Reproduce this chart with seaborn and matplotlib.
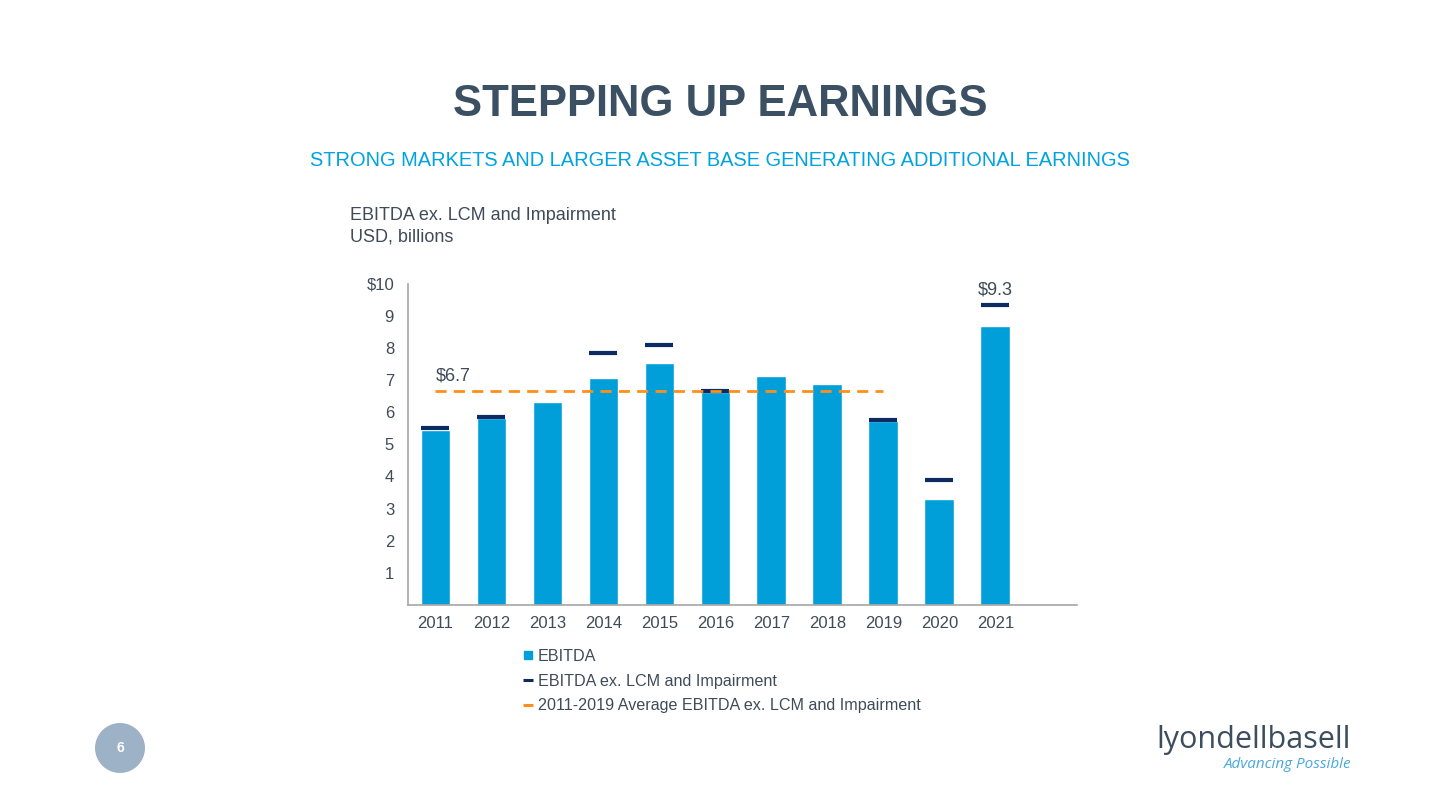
import matplotlib
matplotlib.use("Agg")
import matplotlib.pyplot as plt
from matplotlib.lines import Line2D
from matplotlib.patches import Ellipse
import numpy as np
import pandas as pd
import seaborn as sns

# ---- data ----
years = ["2011", "2012", "2013", "2014", "2015", "2016", "2017", "2018", "2019", "2020", "2021"]
ebitda = [5.45, 5.82, 6.32, 7.07, 7.53, 6.63, 7.14, 6.87, 5.74, 3.29, 8.70]
ebitda_ex = [5.50, 5.86, np.nan, 7.85, 8.10, 6.67, np.nan, np.nan, 5.77, 3.90, 9.34]
avg_years = ["2011", "2019"]
avg_value = 6.68
avg_label = "$6.7"
peak_label = "$9.3"
yticks = [1, 2, 3, 4, 5, 6, 7, 8, 9, 10]
ytick_labels = ["1", "2", "3", "4", "5", "6", "7", "8", "9", "$10"]

BAR = "#009FDA"
NAVY = "#0D2B63"
ORANGE = "#FF8F1C"
TXT = "#3F4B57"
TITLE = "#3C5064"
CYAN = "#00A3E0"

sns.set_theme(style="white")
plt.rcParams["font.family"] = ["Liberation Sans", "DejaVu Sans"]

fig = plt.figure(figsize=(14.4, 8.1), dpi=100)
ax = fig.add_axes([408 / 1440, 1 - 604.8 / 810, (1077 - 408) / 1440, (604.8 - 284) / 810])

df = pd.DataFrame({"year": years, "ebitda": ebitda, "ex": ebitda_ex})
sns.barplot(data=df, x="year", y="ebitda", color=BAR, saturation=1, width=0.53, ax=ax, zorder=2)

pos = np.arange(len(years))
ex_arr = np.array(ebitda_ex, dtype=float)
mask = ~np.isnan(ex_arr)
ax.hlines(ex_arr[mask], pos[mask] - 0.25, pos[mask] + 0.25, colors=NAVY, linewidth=3, zorder=3)

x0 = years.index(avg_years[0])
x1 = years.index(avg_years[1])
ax.plot([x0, x1], [avg_value, avg_value], color=ORANGE, linewidth=2,
        linestyle=(0, (4, 2.6)), zorder=4)
ax.text(x0, avg_value + 0.18, avg_label, fontsize=13, color=TXT, ha="left", va="bottom")
i21 = len(years) - 1
ax.text(pos[i21], ex_arr[i21] + 0.2, peak_label, fontsize=13, color=TXT, ha="center", va="bottom")

ax.set_xlim(-0.49, 11.46)
ax.set_ylim(0, 10)
ax.set_yticks(yticks)
ax.set_yticklabels(ytick_labels)
ax.set_xlabel("")
ax.set_ylabel("")
ax.tick_params(axis="both", length=0, labelsize=12, colors=TXT)
ax.tick_params(axis="y", pad=10)
ax.tick_params(axis="x", pad=8)
for s in ["top", "right"]:
    ax.spines[s].set_visible(False)
for s in ["left", "bottom"]:
    ax.spines[s].set_color("#A6A6A6")
    ax.spines[s].set_linewidth(1.2)

# ---- titles ----
fig.text(0.5, 1 - 104 / 810, "STEPPING UP EARNINGS", ha="center", va="center",
         fontsize=31.4, fontweight="bold", color=TITLE)
fig.text(0.5, 1 - 160 / 810,
         "STRONG MARKETS AND LARGER ASSET BASE GENERATING ADDITIONAL EARNINGS",
         ha="center", va="center", fontsize=14.4, color=CYAN)
fig.text(350 / 1440, 1 - 216 / 810, "EBITDA ex. LCM and Impairment", ha="left", va="center",
         fontsize=13, color=TXT)
fig.text(350 / 1440, 1 - 237 / 810, "USD, billions", ha="left", va="center",
         fontsize=13, color=TXT)

# ---- legend ----
handles = [
    Line2D([], [], marker="s", linestyle="none", markersize=6, color=BAR),
    Line2D([], [], marker="_", linestyle="none", markersize=7, markeredgewidth=2.2, color=NAVY),
    Line2D([], [], marker="_", linestyle="none", markersize=7, markeredgewidth=2.2, color=ORANGE),
]
labels = ["EBITDA", "EBITDA ex. LCM and Impairment", "2011-2019 Average EBITDA ex. LCM and Impairment"]
leg = fig.legend(handles, labels, loc="upper left", bbox_to_anchor=(523 / 1440, 1 - 649 / 810),
                 frameon=False, fontsize=11.6, handlelength=0.6, handletextpad=0.3,
                 labelspacing=0.6, borderaxespad=0, borderpad=0, labelcolor=TXT)

# ---- page number and logo ----
circ = Ellipse((120 / 1440, 1 - 748 / 810), 50 / 1440, 50 / 810, transform=fig.transFigure,
               facecolor="#9DB2C7", edgecolor="none")
fig.patches.append(circ)
fig.text(120 / 1440, 1 - 748 / 810, "6", ha="center", va="center", fontsize=10,
         fontweight="bold", color="white")
fig.text(1351 / 1440, 1 - 740 / 810, "lyondellbasell", ha="right", va="center",
         fontsize=22, color="#3C4D5E", family=["Open Sans", "DejaVu Sans"])
fig.text(1351 / 1440, 1 - 764 / 810, "Advancing Possible", ha="right", va="center",
         fontsize=11, color="#4AA8E0", style="italic", family=["Open Sans", "DejaVu Sans"])

fig.savefig("out.png", dpi=100)
